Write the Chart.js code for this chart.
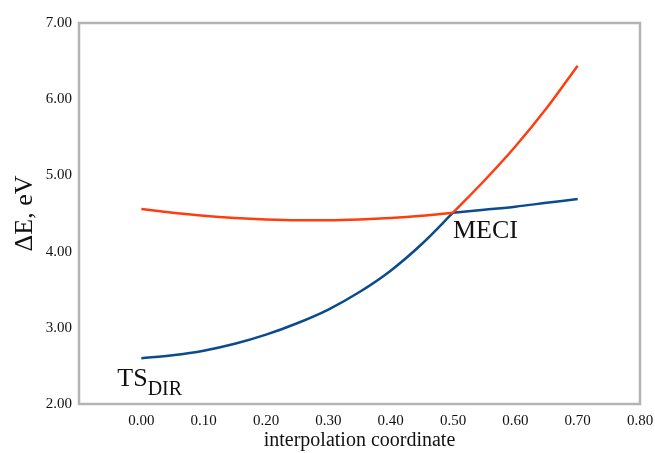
<!DOCTYPE html>
<html>
<head>
<meta charset="utf-8">
<script src="https://cdn.jsdelivr.net/npm/chart.js@4"></script>
<style>
  html, body { margin: 0; padding: 0; background: #fff; }
  #wrap { width: 655px; height: 453px; }
</style>
</head>
<body>
<div id="wrap"><canvas id="chart"></canvas></div>
<script>
// interpolation coordinate
var coords = [0.0, 0.05, 0.1, 0.15, 0.2, 0.25, 0.3, 0.35, 0.4, 0.45, 0.5, 0.55, 0.6, 0.65, 0.7];
// upper state (red)
var upperE = [4.56, 4.51, 4.47, 4.44, 4.42, 4.41, 4.41, 4.42, 4.44, 4.47, 4.51, 4.93, 5.38, 5.88, 6.44];
// lower state (blue)
var lowerE = [2.60, 2.64, 2.70, 2.79, 2.91, 3.06, 3.24, 3.47, 3.75, 4.10, 4.51, 4.55, 4.59, 4.64, 4.69];
var meciIndex = 10;
var xTicks = [0.0, 0.1, 0.2, 0.3, 0.4, 0.5, 0.6, 0.7, 0.8];
var yTicks = [2, 3, 4, 5, 6, 7];

var serif = "'Liberation Serif', 'DejaVu Serif', serif";

function toPoints(ys, from, to) {
  var pts = [];
  for (var i = from; i <= to; i++) pts.push({ x: coords[i], y: ys[i] });
  return pts;
}

// the curves have a kink at the MECI, so each one is drawn in two smooth pieces
function piece(ys, from, to, color) {
  return {
    data: toPoints(ys, from, to),
    borderColor: color,
    borderWidth: 2.5,
    pointRadius: 0,
    cubicInterpolationMode: "monotone",
    fill: false
  };
}

var labelsPlugin = {
  id: "labels",
  afterDraw: function (chart) {
    var ctx = chart.ctx;
    var a = chart.chartArea;
    var xs = chart.scales.x;
    var ys = chart.scales.y;
    ctx.save();
    // frame
    ctx.strokeStyle = "#b4b4b4";
    ctx.lineWidth = 2.5;
    ctx.strokeRect(a.left, a.top, a.right - a.left, a.bottom - a.top);

    ctx.fillStyle = "#111";
    ctx.textBaseline = "alphabetic";
    ctx.textAlign = "left";
    // MECI
    ctx.font = "26px " + serif;
    ctx.fillText("MECI", xs.getPixelForValue(0.5), ys.getPixelForValue(4.5) + 24);
    // TS_DIR
    var tx = xs.getPixelForValue(0) - 24;
    var ty = ys.getPixelForValue(2.6) + 28;
    ctx.fillText("TS", tx, ty);
    var w = ctx.measureText("TS").width;
    ctx.font = "20px " + serif;
    ctx.fillText("DIR", tx + w, ty + 9);
    ctx.restore();
  }
};

var last = coords.length - 1;
var config = {
  type: "line",
  data: {
    datasets: [
      piece(upperE, 0, meciIndex, "#ff3d0d"),
      piece(upperE, meciIndex, last, "#ff3d0d"),
      piece(lowerE, 0, meciIndex, "#0a4a8f"),
      piece(lowerE, meciIndex, last, "#0a4a8f")
    ]
  },
  options: {
    responsive: true,
    maintainAspectRatio: false,
    animation: false,
    layout: { padding: { top: 23, right: 0, left: 0, bottom: 0 } },
    plugins: {
      legend: { display: false },
      tooltip: { enabled: false }
    },
    scales: {
      x: {
        type: "linear",
        min: -0.1,
        max: 0.8,
        afterBuildTicks: function (scale) {
          scale.ticks = xTicks.map(function (v) { return { value: v }; });
        },
        afterFit: function (scale) {
          scale.height = 49;
          scale.paddingRight = 15;
        },
        grid: { display: false, drawTicks: false },
        border: { display: false },
        ticks: {
          color: "#111",
          padding: 8,
          maxRotation: 0,
          font: { family: serif, size: 15 },
          callback: function (v) { return v.toFixed(2); }
        },
        title: {
          display: true,
          text: "interpolation coordinate",
          color: "#111",
          padding: { top: 0, bottom: 0 },
          font: { family: serif, size: 20 }
        }
      },
      y: {
        min: 2,
        max: 7,
        afterBuildTicks: function (scale) {
          scale.ticks = yTicks.map(function (v) { return { value: v }; });
        },
        afterFit: function (scale) { scale.width = 79; },
        grid: { display: false, drawTicks: false },
        border: { display: false },
        ticks: {
          color: "#111",
          padding: 7,
          font: { family: serif, size: 15 },
          callback: function (v) { return v.toFixed(2); }
        },
        title: {
          display: true,
          text: "ΔE, eV",
          color: "#111",
          padding: { top: 10, bottom: 0 },
          font: { family: serif, size: 26 }
        }
      }
    }
  },
  plugins: [labelsPlugin]
};

var myChart = new Chart(document.getElementById("chart"), config);
</script>
</body>
</html>
